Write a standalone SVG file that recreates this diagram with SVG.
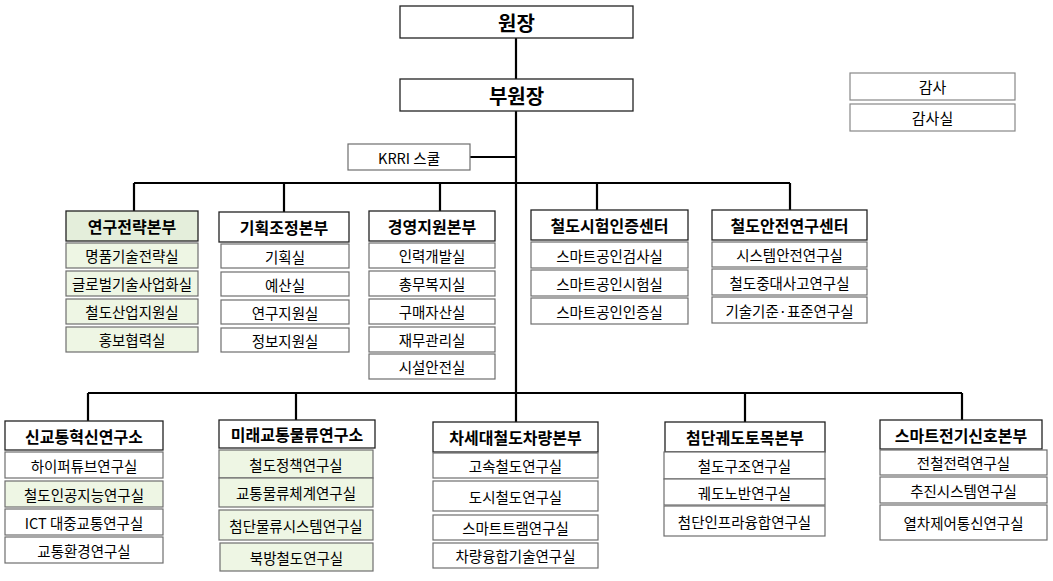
<svg xmlns="http://www.w3.org/2000/svg" width="1053" height="581" viewBox="0 0 1053 581">
<style>
text{font-family:"Noto Sans CJK KR","Liberation Sans",sans-serif;text-anchor:middle;dominant-baseline:central;fill:#000}
.h rect{fill:#fff;stroke:#222;stroke-width:1.3}
.h text{font-weight:bold;font-size:16px}
.hg rect{fill:#e4eedb}
.i rect{fill:#fff;stroke:#6e6e6e;stroke-width:1.2}
.i text{font-size:14.5px}
.g rect{fill:#eef6e4}
.top rect{fill:#fff;stroke:#222;stroke-width:1.3}
.top text{font-weight:bold;font-size:20px}
.a rect{fill:#fff;stroke:#888;stroke-width:1.2}
.a text{font-size:15px}
.c{stroke:#000;stroke-width:2.2;fill:none}
</style>
<rect width="1053" height="581" fill="#fff"/>
<g id="connectors" class="c">
<path d="M516 38V79M516 111V393M470 157H516M134 183H790M134 183V211M284 183V212M440 183V211M597 183V210M790 183V210M88 393H962M88 393V421M296 393V420M516 393V422M745 393V422M962 393V420"/>
</g>
<g id="n-president" class="top"><rect x="400" y="6" width="233" height="32"/><text x="516.5" y="22">원장</text></g>
<g id="n-vice" class="top"><rect x="400" y="79" width="233" height="32"/><text x="516.5" y="95">부원장</text></g>
<g id="n-audit" class="a"><rect x="850" y="73" width="165" height="27"/><text x="932.5" y="86.5">감사</text></g>
<g id="n-auditoffice" class="a"><rect x="850" y="104" width="165" height="27"/><text x="932.5" y="117.5">감사실</text></g>
<g id="n-school" class="i"><rect x="348" y="144" width="122" height="26"/><text x="409" y="157">KRRI 스쿨</text></g>

<g id="n-d1" class="h hg"><rect x="66" y="211" width="132" height="30"/><text x="132" y="226">연구전략본부</text></g>
<g id="n-d1-items" class="i g">
<rect x="66" y="243" width="132" height="25"/><text x="132" y="255.5">명품기술전략실</text>
<rect x="66" y="271" width="132" height="25"/><text x="132" y="283.5">글로벌기술사업화실</text>
<rect x="66" y="299" width="132" height="25"/><text x="132" y="311.5">철도산업지원실</text>
<rect x="66" y="327" width="132" height="25"/><text x="132" y="339.5">홍보협력실</text>
</g>
<g id="n-d2" class="h"><rect x="219" y="212" width="130" height="30"/><text x="284" y="227">기획조정본부</text></g>
<g id="n-d2-items" class="i">
<rect x="221" y="244" width="128" height="24"/><text x="285" y="256">기획실</text>
<rect x="221" y="272" width="128" height="24"/><text x="285" y="284">예산실</text>
<rect x="221" y="300" width="128" height="24"/><text x="285" y="312">연구지원실</text>
<rect x="221" y="328" width="128" height="24"/><text x="285" y="340">정보지원실</text>
</g>
<g id="n-d3" class="h"><rect x="369" y="211" width="126" height="30"/><text x="432" y="226">경영지원본부</text></g>
<g id="n-d3-items" class="i">
<rect x="369" y="243" width="126" height="25"/><text x="432" y="255.5">인력개발실</text>
<rect x="369" y="271" width="126" height="25"/><text x="432" y="283.5">총무복지실</text>
<rect x="369" y="299" width="126" height="25"/><text x="432" y="311.5">구매자산실</text>
<rect x="369" y="327" width="126" height="25"/><text x="432" y="339.5">재무관리실</text>
<rect x="369" y="354" width="126" height="25"/><text x="432" y="366.5">시설안전실</text>
</g>
<g id="n-d4" class="h"><rect x="531" y="210" width="157" height="30"/><text x="609.5" y="225">철도시험인증센터</text></g>
<g id="n-d4-items" class="i">
<rect x="531" y="242" width="157" height="26"/><text x="609.5" y="255">스마트공인검사실</text>
<rect x="531" y="270" width="157" height="26"/><text x="609.5" y="283">스마트공인시험실</text>
<rect x="531" y="298" width="157" height="26"/><text x="609.5" y="311">스마트공인인증실</text>
</g>
<g id="n-d5" class="h"><rect x="712" y="210" width="155" height="30"/><text x="789.5" y="225">철도안전연구센터</text></g>
<g id="n-d5-items" class="i">
<rect x="712" y="242" width="155" height="25"/><text x="789.5" y="254.5">시스템안전연구실</text>
<rect x="712" y="269" width="155" height="26"/><text x="789.5" y="282">철도중대사고연구실</text>
<rect x="712" y="297" width="155" height="26"/><text x="789.5" y="310">기술기준·표준연구실</text>
</g>

<g id="n-r1" class="h"><rect x="5" y="421" width="158" height="29"/><text x="84" y="435.5">신교통혁신연구소</text></g>
<g id="n-r1-items" class="i">
<rect x="5" y="452" width="158" height="26"/><text x="84" y="465">하이퍼튜브연구실</text>
<rect x="5" y="481" width="158" height="26" style="fill:#eef6e4"/><text x="84" y="494">철도인공지능연구실</text>
<rect x="5" y="509" width="158" height="26"/><text x="84" y="522">ICT 대중교통연구실</text>
<rect x="5" y="537" width="158" height="26"/><text x="84" y="550">교통환경연구실</text>
</g>
<g id="n-r2" class="h"><rect x="219" y="420" width="156" height="28"/><text x="297" y="434">미래교통물류연구소</text></g>
<g id="n-r2-items" class="i g">
<rect x="219" y="450" width="154" height="28"/><text x="296" y="464">철도정책연구실</text>
<rect x="219" y="478" width="154" height="29"/><text x="296" y="492.5">교통물류체계연구실</text>
<rect x="219" y="510" width="154" height="30"/><text x="296" y="525">첨단물류시스템연구실</text>
<rect x="220" y="543" width="153" height="28"/><text x="296.5" y="557">북방철도연구실</text>
</g>
<g id="n-r3" class="h"><rect x="433" y="422" width="165" height="30"/><text x="515.5" y="437">차세대철도차량본부</text></g>
<g id="n-r3-items" class="i">
<rect x="433" y="453" width="165" height="25"/><text x="515.5" y="465.5">고속철도연구실</text>
<rect x="433" y="481" width="165" height="30"/><text x="515.5" y="496">도시철도연구실</text>
<rect x="433" y="515" width="165" height="25"/><text x="515.5" y="527.5">스마트트램연구실</text>
<rect x="433" y="543" width="165" height="25"/><text x="515.5" y="555.5">차량융합기술연구실</text>
</g>
<g id="n-r4" class="h"><rect x="665" y="422" width="160" height="30"/><text x="745" y="437">첨단궤도토목본부</text></g>
<g id="n-r4-items" class="i">
<rect x="664" y="452" width="161" height="27"/><text x="744.5" y="465.5">철도구조연구실</text>
<rect x="664" y="479" width="161" height="26"/><text x="744.5" y="492">궤도노반연구실</text>
<rect x="664" y="506" width="161" height="30"/><text x="744.5" y="521">첨단인프라융합연구실</text>
</g>
<g id="n-r5" class="h"><rect x="880" y="420" width="162" height="29"/><text x="961" y="434.5">스마트전기신호본부</text></g>
<g id="n-r5-items" class="i">
<rect x="880" y="450" width="167" height="25"/><text x="963.5" y="462.5">전철전력연구실</text>
<rect x="880" y="477" width="167" height="26"/><text x="963.5" y="490">추진시스템연구실</text>
<rect x="880" y="505" width="167" height="35"/><text x="963.5" y="522.5">열차제어통신연구실</text>
</g>
</svg>
